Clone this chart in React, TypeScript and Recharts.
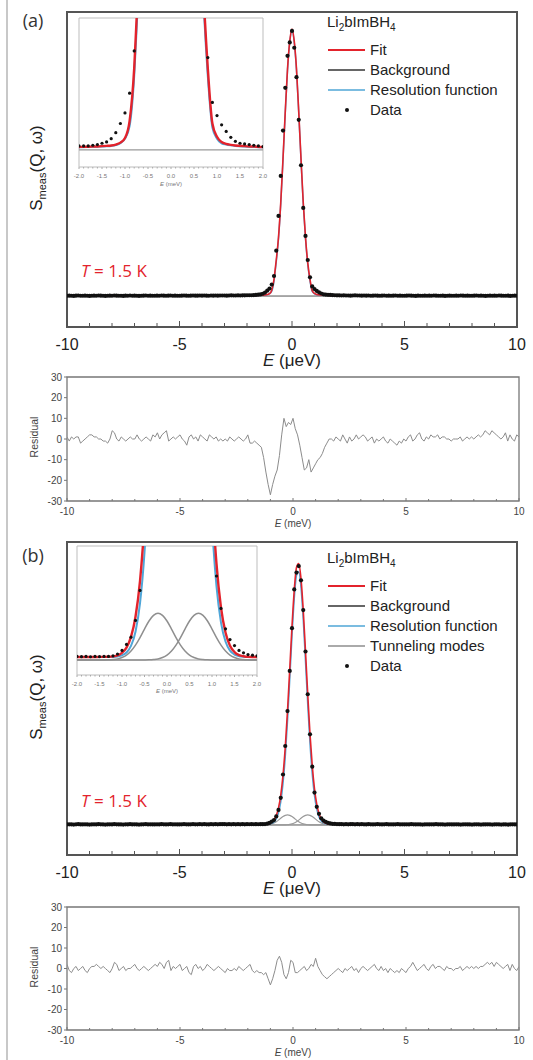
import React from 'react';
import { ComposedChart, Line, Scatter, XAxis, YAxis, ReferenceArea } from 'recharts';

const font = '"Liberation Sans", Arial, sans-serif';

// energy grid of the measured points and residuals (-10 ... 10 µeV, step 0.1)
const gridE = Array.from({ length: 201 }, (_, i) => (i - 100) / 10);

const dataA = [
  0.1, 0.15, 0.1, 0.05, 0.15, 0.2, 0.1, 0.1, 0.15, 0.1,
  0.05, 0.1, 0.15, 0.1, 0.2, 0.15, 0.1, 0.05, 0.1, 0.15,
  0.1, 0.2, 0.15, 0.1, 0.1, 0.05, 0.15, 0.1, 0.2, 0.1,
  0.15, 0.1, 0.05, 0.1, 0.15, 0.2, 0.1, 0.15, 0.1, 0.1,
  0.15, 0.1, 0.2, 0.15, 0.1, 0.15, 0.2, 0.1, 0.15, 0.1,
  0.1, 0.15, 0.2, 0.15, 0.1, 0.15, 0.2, 0.15, 0.15, 0.2,
  0.15, 0.2, 0.15, 0.1, 0.2, 0.15, 0.2, 0.15, 0.2, 0.2,
  0.2, 0.15, 0.2, 0.25, 0.2, 0.2, 0.25, 0.2, 0.25, 0.25,
  0.3, 0.3, 0.3, 0.35, 0.4, 0.5, 0.6, 0.85, 1.3, 2.0,
  2.8, 4.3, 7.5, 17, 30, 45, 62, 78, 90, 95,
  99.3, 93, 82, 66, 49, 33, 22.5, 13.5, 7, 3.6,
  2.6, 1.9, 1.4, 0.95, 0.65, 0.5, 0.45, 0.4, 0.35, 0.3,
  0.25, 0.25, 0.2, 0.25, 0.2, 0.2, 0.15, 0.2, 0.25, 0.2,
  0.2, 0.15, 0.2, 0.15, 0.2, 0.1, 0.15, 0.2, 0.15, 0.1,
  0.15, 0.2, 0.1, 0.15, 0.1, 0.15, 0.2, 0.1, 0.15, 0.1,
  0.1, 0.15, 0.2, 0.15, 0.1, 0.05, 0.15, 0.1, 0.1, 0.15,
  0.1, 0.15, 0.1, 0.2, 0.15, 0.1, 0.1, 0.15, 0.05, 0.1,
  0.15, 0.1, 0.1, 0.15, 0.1, 0.2, 0.15, 0.1, 0.15, 0.1,
  0.1, 0.15, 0.2, 0.1, 0.15, 0.1, 0.05, 0.1, 0.15, 0.1,
  0.15, 0.1, 0.2, 0.15, 0.1, 0.1, 0.15, 0.05, 0.1, 0.15,
  0.1,
];

const dataB = [
  0.2, 0.25, 0.2, 0.15, 0.25, 0.3, 0.2, 0.2, 0.25, 0.2,
  0.15, 0.2, 0.25, 0.2, 0.3, 0.25, 0.2, 0.15, 0.2, 0.25,
  0.2, 0.3, 0.25, 0.2, 0.2, 0.15, 0.25, 0.2, 0.3, 0.2,
  0.25, 0.2, 0.15, 0.2, 0.25, 0.3, 0.2, 0.25, 0.2, 0.2,
  0.25, 0.2, 0.3, 0.25, 0.2, 0.25, 0.3, 0.2, 0.25, 0.2,
  0.2, 0.25, 0.3, 0.25, 0.2, 0.25, 0.3, 0.25, 0.25, 0.3,
  0.25, 0.3, 0.25, 0.2, 0.3, 0.25, 0.3, 0.25, 0.3, 0.3,
  0.3, 0.25, 0.3, 0.25, 0.3, 0.25, 0.3, 0.25, 0.3, 0.25,
  0.3, 0.28, 0.3, 0.27, 0.3, 0.28, 0.3, 0.3, 0.35, 0.5,
  0.8, 1.3, 1.9, 3.3, 5.8, 10.5, 19.5, 30.5, 44, 59.5,
  76, 91, 97.5, 100, 94.5, 83, 67, 50.5, 35, 22.5,
  12.5, 7.0, 4.3, 2.6, 1.7, 1.2, 0.8, 0.6, 0.45, 0.4,
  0.35, 0.3, 0.3, 0.25, 0.3, 0.25, 0.3, 0.3, 0.25, 0.3,
  0.25, 0.3, 0.25, 0.2, 0.3, 0.25, 0.2, 0.25, 0.3, 0.25,
  0.2, 0.25, 0.3, 0.2, 0.25, 0.2, 0.25, 0.3, 0.2, 0.25,
  0.2, 0.25, 0.2, 0.3, 0.25, 0.2, 0.25, 0.2, 0.15, 0.2,
  0.25, 0.2, 0.25, 0.2, 0.3, 0.2, 0.25, 0.2, 0.15, 0.2,
  0.25, 0.2, 0.2, 0.25, 0.2, 0.15, 0.2, 0.25, 0.2, 0.2,
  0.15, 0.2, 0.25, 0.2, 0.15, 0.2, 0.2, 0.25, 0.2, 0.15,
  0.2, 0.25, 0.2, 0.15, 0.2, 0.2, 0.15, 0.2, 0.25, 0.2,
  0.2,
];

const residA = [
  1, -1, 1, 0, 1, 1, -2, -1, 0, 1,
  2, 2, 1, 1, 0, 0, -1, -1, -2, 0,
  4, 3, 0, -1, 1, 0, -1, 0, 1, 0,
  0, 2, 0, -1, 0, 1, 0, -1, 2, 1,
  3, 0, 2, 3, 4, -1, 0, 1, 0, 1,
  2, 0, -1, -3, 1, 2, 0, 1, -1, 2,
  1, 0, -1, 2, 1, 0, 1, -1, 0, -1,
  0, -1, 1, 0, -1, 0, 1, 0, -1, 0,
  2, -2, -2, -1, -2, -3, -4, -9, -16, -22,
  -27, -22, -18, -15, -8, 2, 10, 6, 8, 7,
  10, 5, 2, -3, -9, -15, -14, -10, -16, -14,
  -12, -10, -9, -7, -4, -2, 0, 0, -1, 1,
  0, -1, 2, 0, -2, 1, -1, 0, 2, 0,
  1, 2, 1, -1, 0, 1, -2, 0, -1, 0,
  1, -1, -2, 0, -1, -2, -3, -1, -2, 0,
  -1, 1, 2, -1, 0, 2, 3, 0, -1, 1,
  0, 2, 1, 1, 2, 0, 1, 1, 0, 0,
  -1, 0, 0, 0, 1, -1, 0, 1, 0, 1,
  0, 1, 2, 1, 2, 4, 3, 2, 4, 3,
  2, 1, 0, 1, 3, -1, 2, 0, -1, 2,
  1,
];

const residB = [
  2, -1, -2, 0, 1, -1, 0, 1, -1, -2,
  0, 1, 1, 2, 1, 0, 1, 0, -1, -2,
  0, 3, 2, -1, 0, 1, -1, 0, 0, 1,
  2, 0, -1, 0, 1, 0, -1, 0, 1, 2,
  1, 3, 2, 0, 3, 4, -1, 1, 0, 1,
  2, -1, 0, 1, -2, -3, 1, 2, 0, 1,
  -1, 0, 2, 1, 0, -1, 0, 1, 0, -1,
  -2, 0, -1, -1, 0, -1, 1, 0, -1, 0,
  1, 2, -1, -2, -1, -2, -2, -3, -2, -5,
  -8, -5, -1, 4, 6, 3, -3, -5, -2, 4,
  3, -2, -2, -1, 0, 1, -1, 0, 2, 1,
  5, 1, -1, -3, -4, -5, -4, -3, -2, -1,
  0, -1, -2, 0, -1, 0, 1, -1, 0, -2,
  0, 1, 0, -1, 0, 1, 2, 0, -1, 1,
  -1, 0, -2, 0, -1, -2, -1, -2, 0, -1,
  -2, 0, 1, 3, 1, -1, 0, 1, 2, 0,
  -1, 1, 2, 0, 1, 1, 0, -1, 1, 0,
  0, -1, 0, 0, 1, -1, 0, 1, 0, 1,
  0, 1, 0, 1, 1, 2, 3, 2, 3, 1,
  3, 2, 1, 0, 1, 2, -1, 2, 0, -1,
  1,
];

// panel (a) model curves
const fitAE = [-10, -6, -4, -3, -2.5, -2, -1.8, -1.6, -1.4, -1.3, -1.2, -1.1, -1.0, -0.9, -0.8, -0.75, -0.7, -0.6, -0.5, -0.4, -0.3, -0.2, -0.1, 0,
  0.1, 0.2, 0.3, 0.4, 0.5, 0.6, 0.7, 0.8, 0.9, 1.0, 1.1, 1.2, 1.3, 1.4, 1.6, 1.8, 2, 2.5, 3, 4, 6, 10];
const fitAV = [0.12, 0.14, 0.16, 0.18, 0.2, 0.22, 0.24, 0.26, 0.3, 0.33, 0.4, 0.55, 0.9, 2.2, 6.2, 9.8, 13.5, 22, 35, 51.5, 69, 85, 95.5, 100,
  95.5, 85, 69, 51.5, 35, 22, 12.5, 6.2, 2.0, 1.0, 0.6, 0.45, 0.38, 0.33, 0.28, 0.25, 0.22, 0.2, 0.18, 0.16, 0.14, 0.12];
const resAV = [0.1, 0.12, 0.14, 0.16, 0.18, 0.2, 0.22, 0.24, 0.27, 0.3, 0.36, 0.5, 0.85, 1.8, 5.6, 9.0, 12.8, 21.5, 34.5, 51, 68.5, 84.5, 95, 99.5,
  95, 84.5, 68.5, 51, 34.5, 21.5, 11.8, 5.6, 1.7, 0.85, 0.5, 0.4, 0.34, 0.3, 0.25, 0.22, 0.2, 0.18, 0.16, 0.14, 0.12, 0.1];

const bgE = [-10, 10];
const bgV = [0, 0];

// panel (b) model curves
const fitBE = [-10, -6, -4, -3, -2.5,
  -2.0, -1.9, -1.8, -1.7, -1.6, -1.5, -1.4, -1.3, -1.2, -1.1,
  -1.0, -0.9, -0.8, -0.7, -0.6, -0.5, -0.4, -0.3, -0.2, -0.1,
  0, 0.1, 0.2, 0.3, 0.4, 0.5, 0.6, 0.7, 0.8, 0.9,
  1.0, 1.1, 1.2, 1.3, 1.4, 1.5, 1.6, 1.7, 1.8, 1.9, 2.0,
  2.5, 3, 4, 6, 10];
const fitBV = [0.2, 0.21, 0.22, 0.23, 0.24,
  0.25, 0.25, 0.25, 0.25, 0.25, 0.26, 0.26, 0.27, 0.3, 0.385,
  0.6, 1.03, 1.92, 3.6, 6.58, 11.55, 19.21, 30.01, 44.04, 60.18,
  76.71, 90.68, 99.46, 100.96, 95.08, 82.91, 66.98, 50.34, 35.11, 22.91,
  13.93, 8.01, 4.36, 2.29, 1.19, 0.66, 0.41, 0.31, 0.26, 0.25, 0.25,
  0.24, 0.23, 0.22, 0.21, 0.2];
const resBV = [0.2, 0.21, 0.22, 0.23, 0.24,
  0.25, 0.25, 0.25, 0.25, 0.25, 0.25, 0.25, 0.25, 0.26, 0.3,
  0.39, 0.62, 1.17, 2.36, 4.71, 8.96, 15.95, 26.25, 40.05, 56.25,
  73.05, 87.35, 96.35, 97.85, 91.75, 79.25, 63.05, 46.35, 31.35, 19.65,
  11.35, 6.14, 3.12, 1.54, 0.78, 0.45, 0.32, 0.27, 0.25, 0.25, 0.25,
  0.24, 0.23, 0.22, 0.21, 0.2];

const tunE = [-2.0, -1.9, -1.8, -1.7, -1.6, -1.5, -1.4, -1.3, -1.2, -1.1,
  -1.0, -0.9, -0.8, -0.7, -0.6, -0.5, -0.4, -0.3, -0.2, -0.1,
  0, 0.1, 0.2, 0.3, 0.4, 0.5, 0.6, 0.7, 0.8, 0.9,
  1.0, 1.1, 1.2, 1.3, 1.4, 1.5, 1.6, 1.7, 1.8, 1.9, 2.0];
const tun1V = [0, 0, 0, 0, 0, 0, 0.005, 0.015, 0.04, 0.09,
  0.21, 0.41, 0.75, 1.24, 1.87, 2.58, 3.25, 3.72, 3.9, 3.72,
  3.25, 2.58, 1.87, 1.24, 0.75, 0.41, 0.21, 0.09, 0.04, 0.015,
  0.005, 0, 0, 0, 0, 0, 0, 0, 0, 0, 0];
const tun2V = [0, 0, 0, 0, 0, 0, 0, 0, 0, 0,
  0, 0, 0, 0, 0, 0.005, 0.015, 0.04, 0.09, 0.21,
  0.41, 0.75, 1.24, 1.87, 2.58, 3.25, 3.72, 3.9, 3.72, 3.25,
  2.58, 1.87, 1.24, 0.75, 0.41, 0.21, 0.09, 0.04, 0.015, 0.005, 0];

const mainTicks = [-10, -9, -8, -7, -6, -5, -4, -3, -2, -1, 0, 1, 2, 3, 4, 5, 6, 7, 8, 9, 10];
const insetTicks = Array.from({ length: 41 }, (_, i) => (i - 20) / 10);
const residTicks = [-30, -20, -10, 0, 10, 20, 30];

const pts = (es: number[], vs: number[]) => es.map((e, i) => ({ e, v: vs[i] }));
const inRange = (d: { e: number }[]) => d.filter((p) => p.e >= -2.001 && p.e <= 2.001);

const RED = '#e3232c';
const BLUE = '#4fa6d8';
const BG = '#555555';
const TUN = '#9a9a9a';

function XTick(props: any) {
  const { x, y, payload, step, len, minorLen, fontSize, color, gap, dir = -1, digits = 0, tickColor } = props;
  const v = payload.value;
  const isMajor = Math.abs(v / step - Math.round(v / step)) < 1e-6;
  return (
    <g>
      <line x1={x} x2={x} y1={y} y2={y + dir * (isMajor ? len : minorLen)} stroke={tickColor || color} strokeWidth={1} />
      {isMajor && (
        <text x={x} y={y + gap} textAnchor="middle" dominantBaseline="central" fontSize={fontSize} fill={color} fontFamily={font}>
          {v.toFixed(digits)}
        </text>
      )}
    </g>
  );
}

const dot = (r: number) => (p: any) => <circle cx={p.cx} cy={p.cy} r={r} fill="#111" />;

function MainPanel({ top, bottom, yDomain, data, fit, res, t1, t2 }: any) {
  return (
    <div style={{ position: 'absolute', left: 0, top }}>
      <ComposedChart width={533} height={360} margin={{ top: 12, right: 16, left: 67, bottom }}>
        <XAxis type="number" dataKey="e" domain={[-10, 10]} ticks={mainTicks} interval={0} allowDataOverflow height={30}
          axisLine={false} tickLine={false} tickSize={0} tickMargin={0}
          tick={(p: any) => <XTick {...p} step={5} len={6} minorLen={4} fontSize={16} color="#222" tickColor="#555" gap={17} />} />
        <YAxis type="number" dataKey="v" domain={yDomain} hide allowDataOverflow />
        <ReferenceArea x1={-10} x2={10} y1={yDomain[0]} y2={yDomain[1]} fill="none" stroke="#555" strokeWidth={2} ifOverflow="visible" />
        <Line data={pts(bgE, bgV)} dataKey="v" stroke={BG} strokeWidth={1} dot={false} isAnimationActive={false} />
        {t1 && <Line data={t1} dataKey="v" type="monotone" stroke={TUN} strokeWidth={1.2} dot={false} isAnimationActive={false} />}
        {t2 && <Line data={t2} dataKey="v" type="monotone" stroke={TUN} strokeWidth={1.2} dot={false} isAnimationActive={false} />}
        <Line data={res} dataKey="v" type="monotone" stroke={BLUE} strokeWidth={1.5} dot={false} isAnimationActive={false} />
        <Line data={fit} dataKey="v" type="monotone" stroke={RED} strokeWidth={1.6} dot={false} isAnimationActive={false} />
        <Scatter data={data} dataKey="v" shape={dot(2.1)} isAnimationActive={false} />
      </ComposedChart>
    </div>
  );
}

function InsetPanel({ top, margin, yDomain, data, fit, res, t1, t2 }: any) {
  return (
    <div style={{ position: 'absolute', left: 0, top }}>
      <ComposedChart width={533} height={200} margin={margin}>
        <XAxis type="number" dataKey="e" domain={[-2, 2]} ticks={insetTicks} interval={0} allowDataOverflow height={30}
          axisLine={false} tickLine={false} tickSize={0} tickMargin={0}
          tick={(p: any) => <XTick {...p} step={0.5} len={2} minorLen={1.5} dir={1} digits={1} fontSize={6} color="#777" tickColor="#aaa" gap={9} />} />
        <YAxis type="number" dataKey="v" domain={yDomain} hide allowDataOverflow />
        <ReferenceArea x1={-2} x2={2} y1={yDomain[0]} y2={yDomain[1]} fill="#fff" fillOpacity={1} stroke="#bdbdbd" strokeWidth={1} ifOverflow="visible" />
        <Line data={pts(bgE, bgV)} dataKey="v" stroke="#999" strokeWidth={1.2} dot={false} isAnimationActive={false} />
        {t1 && <Line data={t1} dataKey="v" type="monotone" stroke="#8f8f8f" strokeWidth={1.5} dot={false} isAnimationActive={false} />}
        {t2 && <Line data={t2} dataKey="v" type="monotone" stroke="#8f8f8f" strokeWidth={1.5} dot={false} isAnimationActive={false} />}
        <Line data={res} dataKey="v" type="monotone" stroke={BLUE} strokeWidth={2} dot={false} isAnimationActive={false} />
        <Line data={fit} dataKey="v" type="monotone" stroke={RED} strokeWidth={2.4} dot={false} isAnimationActive={false} />
        <Scatter data={data} dataKey="v" shape={dot(1.6)} isAnimationActive={false} />
      </ComposedChart>
    </div>
  );
}

function ResidualPanel({ top, bottom, data }: any) {
  return (
    <div style={{ position: 'absolute', left: 0, top }}>
      <ComposedChart width={533} height={170} margin={{ top: 7, right: 14, left: 37, bottom }}>
        <XAxis type="number" dataKey="e" domain={[-10, 10]} ticks={mainTicks} interval={0} allowDataOverflow height={30}
          axisLine={false} tickLine={false} tickSize={0} tickMargin={0}
          tick={(p: any) => <XTick {...p} step={5} len={3} minorLen={2} fontSize={10} color="#444" tickColor="#777" gap={10} />} />
        <YAxis type="number" dataKey="v" domain={[-30, 30]} ticks={residTicks} interval={0} width={30} axisLine={false}
          tickSize={3} tickMargin={2} tickLine={{ stroke: '#777' }} tick={{ fontSize: 10, fill: '#444', fontFamily: font }} />
        <ReferenceArea x1={-10} x2={10} y1={-30} y2={30} fill="none" stroke="#777" strokeWidth={1.3} ifOverflow="visible" />
        <Line data={data} dataKey="v" stroke="#8c8c8c" strokeWidth={1} dot={false} isAnimationActive={false} />
      </ComposedChart>
    </div>
  );
}

function Label({ x, y, size, rotate, children, style }: any) {
  return (
    <div style={{ position: 'absolute', left: x, top: y, transform: `translate(-50%, -50%)${rotate ? ' rotate(-90deg)' : ''}`,
      whiteSpace: 'nowrap', fontSize: size, fontFamily: font, color: '#222', lineHeight: 1, ...style }}>
      {children}
    </div>
  );
}

function LegendBox({ top, items }: any) {
  return (
    <div style={{ position: 'absolute', left: 327, top, fontFamily: font, fontSize: 15, color: '#222' }}>
      <div style={{ position: 'absolute', left: 0, top: -9, whiteSpace: 'nowrap', lineHeight: '18px' }}>
        Li<sub style={{ fontSize: 10 }}>2</sub>bImBH<sub style={{ fontSize: 10 }}>4</sub>
      </div>
      {items.map((it: any, i: number) => (
        <div key={it.name} style={{ position: 'absolute', left: 0, top: 28 + i * 20 - 9, height: 18, width: 200 }}>
          {it.dot ? (
            <div style={{ position: 'absolute', left: 18, top: 7, width: 4, height: 4, borderRadius: 2, background: '#111' }} />
          ) : (
            <div style={{ position: 'absolute', left: 1, top: 8, width: 37, height: 2, background: it.color }} />
          )}
          <div style={{ position: 'absolute', left: 43, top: 0, lineHeight: '18px', whiteSpace: 'nowrap' }}>{it.name}</div>
        </div>
      ))}
    </div>
  );
}

const legendA = [
  { name: 'Fit', color: RED },
  { name: 'Background', color: '#666' },
  { name: 'Resolution function', color: '#7bbce0' },
  { name: 'Data', dot: true },
];
const legendB = [
  { name: 'Fit', color: RED },
  { name: 'Background', color: '#666' },
  { name: 'Resolution function', color: '#7bbce0' },
  { name: 'Tunneling modes', color: '#aaa' },
  { name: 'Data', dot: true },
];

export default function App() {
  const ptsA = pts(gridE, dataA);
  const ptsB = pts(gridE, dataB);
  const fitA = pts(fitAE, fitAV);
  const resA = pts(fitAE, resAV);
  const fitB = pts(fitBE, fitBV);
  const resB = pts(fitBE, resBV);
  const t1 = pts(tunE, tun1V);
  const t2 = pts(tunE, tun2V);
  const yLab = (
    <span>S<sub style={{ fontSize: 11 }}>meas</sub>(Q, ω)</span>
  );
  const tLab = (
    <span><i>T</i> = 1.5 K</span>
  );
  return (
    <div style={{ position: 'absolute', left: 0, top: 0, width: 533, height: 1060, background: '#fff', overflow: 'hidden' }}>
      <div style={{ position: 'absolute', left: 6, top: 0, width: 2, height: 1060, background: '#c8c8c8' }} />

      <MainPanel top={0} bottom={3} yDomain={[-11.6, 106.4]} data={ptsA} fit={fitA} res={resA} />
      <InsetPanel top={0} margin={{ top: 18, right: 270, left: 79, bottom: 3 }} yDomain={[-1.3, 10]}
        data={inRange(ptsA)} fit={fitA} res={resA} />
      <ResidualPanel top={370} bottom={9} data={pts(gridE, residA)} />

      <MainPanel top={530} bottom={5} yDomain={[-11.6, 109.3]} data={ptsB} fit={fitB} res={resB} t1={t1} t2={t2} />
      <InsetPanel top={530} margin={{ top: 16, right: 276, left: 77, bottom: 25 }} yDomain={[-1.25, 9.5]}
        data={inRange(ptsB)} fit={fitB} res={resB} t1={t1} t2={t2} />
      <ResidualPanel top={900} bottom={10} data={pts(gridE, residB)} />

      <Label x={33} y={20} size={18} style={{ fontFamily: '"Open Sans", sans-serif', color: '#333' }}>(a)</Label>
      <Label x={33} y={555} size={18} style={{ fontFamily: '"Open Sans", sans-serif', color: '#333' }}>(b)</Label>

      <Label x={38} y={168} size={17} rotate>{yLab}</Label>
      <Label x={38} y={697} size={17} rotate>{yLab}</Label>

      <Label x={292} y={360} size={17}><i>E</i> (μeV)</Label>
      <Label x={292} y={888} size={17}><i>E</i> (μeV)</Label>

      <Label x={114} y={270} size={17} style={{ fontFamily: '"Open Sans", sans-serif', color: '#e3232c' }}>{tLab}</Label>
      <Label x={114} y={800} size={17} style={{ fontFamily: '"Open Sans", sans-serif', color: '#e3232c' }}>{tLab}</Label>

      <Label x={171} y={184} size={6} style={{ color: '#777' }}><i>E</i> (meV)</Label>
      <Label x={167} y={691} size={6} style={{ color: '#777' }}><i>E</i> (meV)</Label>

      <Label x={34} y={437} size={10.5} rotate style={{ color: '#444' }}>Residual</Label>
      <Label x={34} y={967} size={10.5} rotate style={{ color: '#444' }}>Residual</Label>
      <Label x={293} y={524} size={10} style={{ color: '#444' }}><i>E</i> (meV)</Label>
      <Label x={293} y={1053} size={10} style={{ color: '#444' }}><i>E</i> (meV)</Label>

      <LegendBox top={22} items={legendA} />
      <LegendBox top={558} items={legendB} />
    </div>
  );
}
